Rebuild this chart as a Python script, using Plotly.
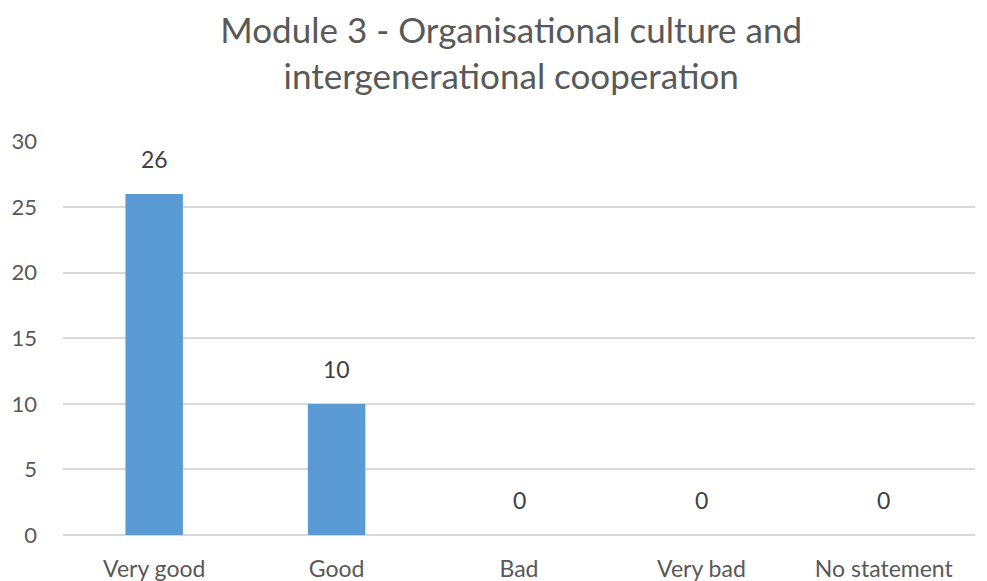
import plotly.graph_objects as go

categories = ["Very good", "Good", "Bad", "Very bad", "No statement"]
values = [26, 10, 0, 0, 0]
y_ticks = [0, 5, 10, 15, 20, 25, 30]

fig = go.Figure()
fig.add_trace(go.Bar(
    x=categories, y=values,
    marker=dict(color="#5B9BD5", line=dict(width=0)),
    width=0.315,
))

for c, v in zip(categories, values):
    fig.add_annotation(
        x=c, y=v, xref="x", yref="y", text=str(v), showarrow=False,
        yanchor="bottom", yshift=19,
        font=dict(size=23, color="#404040", family="Lato"),
    )

fig.update_layout(
    width=979, height=573,
    margin=dict(l=55, r=12, t=133, b=46, autoexpand=False),
    paper_bgcolor="white", plot_bgcolor="white",
    font=dict(family="Lato", color="#595959"),
    title=dict(
        text="Module 3 - Organisational culture and<br>intergenerational cooperation",
        x=0.514, xanchor="center", xref="container",
        y=1 - 35 / 573, yanchor="middle", yref="container",
        font=dict(size=35, color="#595959", family="Lato"),
    ),
    showlegend=False,
    xaxis=dict(
        showgrid=False, showline=False, zeroline=False, automargin=False,
        tickfont=dict(size=23, color="#595959"),
        ticks="", ticklabelstandoff=18,
    ),
    yaxis=dict(
        range=[0, 30.05], tickvals=y_ticks, automargin=False,
        showgrid=True, gridcolor="#D9D9D9", gridwidth=2,
        zeroline=True, zerolinecolor="#D9D9D9", zerolinewidth=2,
        showline=False, ticks="",
        tickfont=dict(size=22, color="#595959"),
        ticklabelstandoff=25,
    ),
)

fig.write_html("out.html")
